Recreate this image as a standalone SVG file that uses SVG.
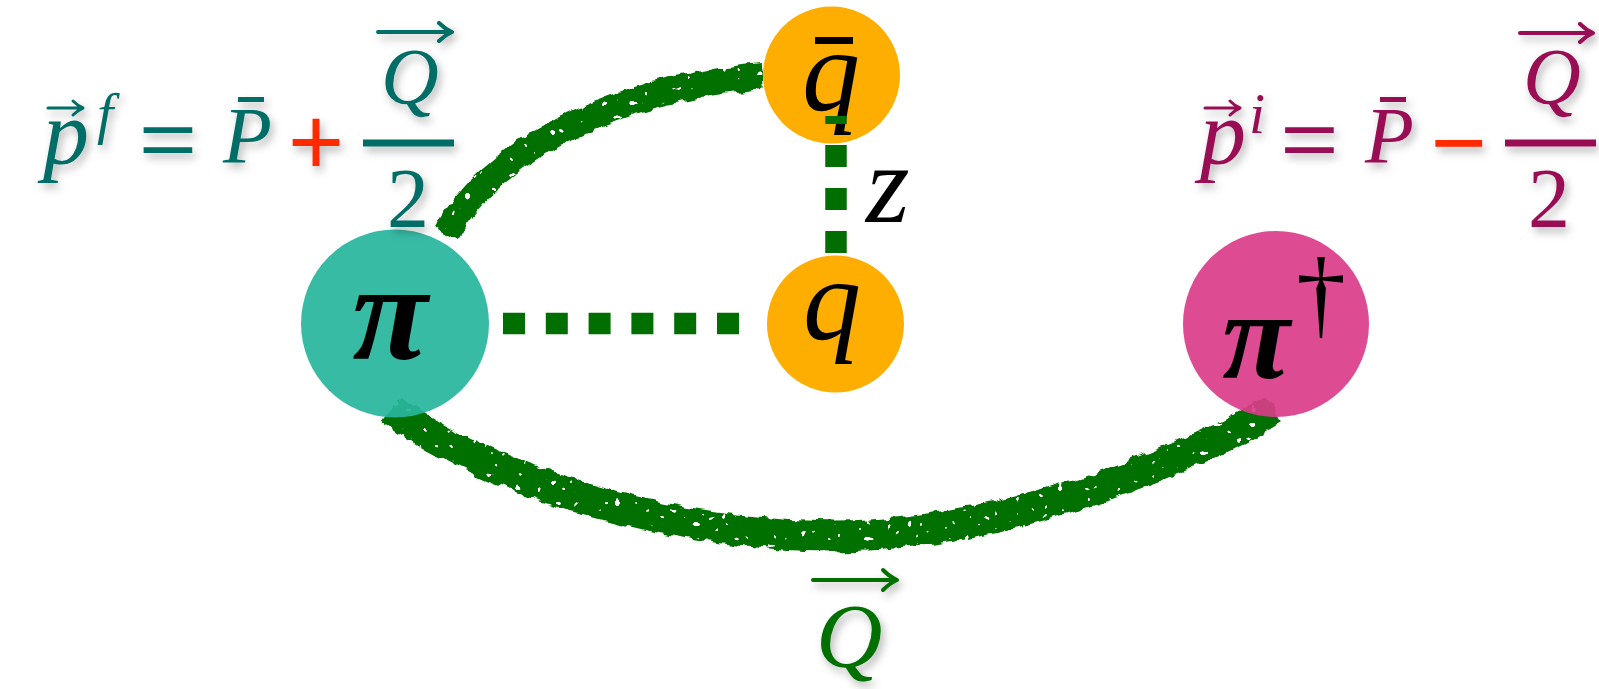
<svg xmlns="http://www.w3.org/2000/svg" width="1599" height="689" viewBox="0 0 1599 689">
<style>
.bg{fill:#ffffff}
.brush{fill:none;stroke:#037002;stroke-linecap:butt;filter:url(#rough)}
.dots{fill:none;stroke:#006f00;stroke-width:21.5}
.math{font-family:"Liberation Serif","Times New Roman",serif;font-style:italic}
.up{font-family:"Liberation Serif","Times New Roman",serif;font-style:normal}
.sym{font-family:"Liberation Sans",Arial,sans-serif;font-style:normal}
.lbl{font-family:"Liberation Serif","Times New Roman",serif;fill:#000}
.teal{fill:#006e66}
.mag{fill:#981052}
.red{fill:#ff2a00}
.grn{fill:#017001}
.arrow{fill:none;stroke-linecap:round;stroke-linejoin:round}
.shadow{filter:url(#shadow)}
</style>
<defs>
<filter id="rough" x="-10%" y="-30%" width="120%" height="160%">
<feTurbulence type="fractalNoise" baseFrequency="0.07" numOctaves="2" seed="4" result="n"/>
<feDisplacementMap in="SourceGraphic" in2="n" scale="10" xChannelSelector="R" yChannelSelector="G" result="d"/>
<feTurbulence type="fractalNoise" baseFrequency="0.14" numOctaves="1" seed="11" result="h"/>
<feColorMatrix in="h" type="matrix" values="0 0 0 0 0  0 0 0 0 0  0 0 0 0 0  -40 0 0 0 28.8" result="hm"/>
<feComposite in="d" in2="hm" operator="in"/>
</filter>
<filter id="shadow" x="-20%" y="-20%" width="140%" height="140%">
<feDropShadow dx="3" dy="5" stdDeviation="4" flood-color="#000" flood-opacity="0.28"/>
</filter>
</defs>
<rect class="bg" x="0" y="0" width="1599" height="689"/>

<g id="connectors">
<path class="brush" stroke-width="26" d="M445,234 C487,158 600,90 763,76"/>
<path class="brush" stroke-width="31" d="M906,323 L1184,323"/>
<path class="brush" stroke-width="31" d="M392,409 C470,470 650,535 834,536 C990,536 1170,470 1274,409"/>
</g>

<g id="node-pi">
<circle cx="395" cy="323.5" r="94" fill="#27b59d" fill-opacity="0.92"/>
<text class="lbl" x="390" y="359" font-size="138" font-weight="bold" font-style="italic" text-anchor="middle">π</text>
</g>

<g id="node-qbar">
<circle cx="831.5" cy="75" r="68.5" fill="#feae00"/>
<text class="lbl" x="831" y="110" font-size="116" font-style="italic" text-anchor="middle">q</text>
<rect x="815" y="37" width="38" height="7" fill="#000"/>
</g>

<g id="node-q">
<circle cx="835.5" cy="324" r="68.5" fill="#feae00"/>
<text class="lbl" x="832" y="339" font-size="116" font-style="italic" text-anchor="middle">q</text>
</g>

<g id="node-pidagger">
<circle cx="1276" cy="324" r="93" fill="#da3c8a" fill-opacity="0.92"/>
<text class="lbl" x="1256" y="378" font-size="124" font-weight="bold" font-style="italic" text-anchor="middle">π</text>
<text class="lbl" x="1321" y="326" font-size="100" text-anchor="middle">†</text>
</g>

<g id="dotted-connectors">
<path class="dots" d="M503,323.5 H739" stroke-dasharray="22 20.8"/>
<path class="dots" d="M836,116 V253" stroke-dasharray="8 21 22 21 22 21 22 40"/>
</g>

<g id="label-z">
<text class="lbl" x="866" y="222" font-size="112" font-style="italic">z</text>
</g>

<g id="formula-left" class="shadow">
<text class="math teal" x="43" y="164" font-size="92">p</text>
<path class="arrow" stroke="#006e66" stroke-width="3" d="M48,108 H82 M73,101 Q78,106 83,108 Q78,110 73,115"/>
<text class="math teal" x="97" y="133" font-size="58">f</text>
<text class="sym teal" x="0" y="166" font-size="80" text-anchor="middle" transform="translate(168,0) scale(1.25,1)">=</text>
<text class="math teal" x="223" y="163" font-size="80">P</text>
<rect x="238" y="97" width="26" height="5" fill="#006e66"/>
<text class="sym red" x="316" y="175" font-size="96" text-anchor="middle">+</text>
<rect x="363" y="139.5" width="91" height="7" fill="#006e66"/>
<text class="math teal" x="381" y="104" font-size="80">Q</text>
<path class="arrow" stroke="#006e66" stroke-width="4" d="M378,32 H451 M439,23 Q445,29 452,32 Q445,35 439,41"/>
<text class="up teal" x="408" y="227" font-size="84" text-anchor="middle">2</text>
</g>

<g id="formula-right" class="shadow">
<text class="math mag" x="1200" y="164" font-size="92">p</text>
<path class="arrow" stroke="#981052" stroke-width="3" d="M1205,108 H1239 M1230,101 Q1235,106 1240,108 Q1235,110 1230,115"/>
<text class="math mag" x="1249" y="133" font-size="58">i</text>
<text class="sym mag" x="0" y="166" font-size="80" text-anchor="middle" transform="translate(1309.5,0) scale(1.25,1)">=</text>
<text class="math mag" x="1365" y="163" font-size="80">P</text>
<rect x="1380" y="97" width="26" height="5" fill="#981052"/>
<text class="sym red" x="1458.5" y="175" font-size="96" text-anchor="middle">−</text>
<rect x="1505" y="139.5" width="91" height="7" fill="#981052"/>
<text class="math mag" x="1523" y="104" font-size="80">Q</text>
<path class="arrow" stroke="#981052" stroke-width="4" d="M1520,33 H1592 M1580,24 Q1586,30 1593,33 Q1586,36 1580,42"/>
<text class="up mag" x="1549" y="227" font-size="84" text-anchor="middle">2</text>
</g>

<g id="label-Q" class="shadow">
<path class="arrow" stroke="#017001" stroke-width="4" d="M813,580 H896 M883,570 Q890,577 897,580 Q890,583 883,590"/>
<text class="math grn" x="816" y="667" font-size="92">Q</text>
</g>
</svg>
